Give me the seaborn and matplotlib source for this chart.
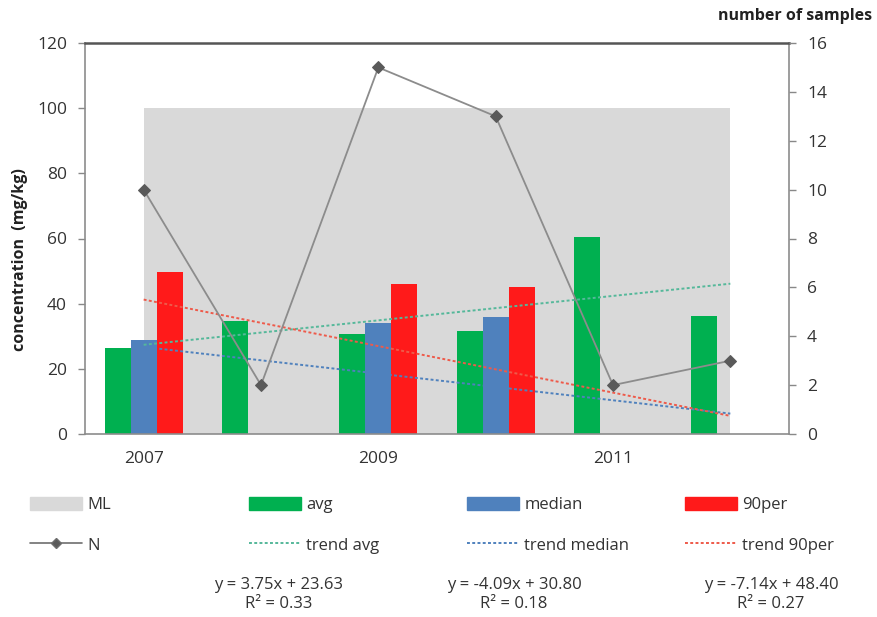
import numpy as np
import pandas as pd
import matplotlib
matplotlib.use("Agg")
import matplotlib.pyplot as plt
from matplotlib.patches import Patch
from matplotlib.lines import Line2D
import seaborn as sns

# ---- data ----
years = ["2007", "2008", "2009", "2010", "2011", "2012"]
ml = [100, 100, 100, 100, 100, 100]
avg = [26.4, 34.8, 30.7, 31.7, 60.6, 36.3]
median = [28.8, np.nan, 34.0, 35.9, np.nan, np.nan]
per90 = [49.8, np.nan, 46.0, 45.1, np.nan, np.nan]
n_samples = [10, 2, 15, 13, 2, 3]

# linear trend coefficients (slope, intercept, R^2), x = 1..6
trend_avg = (3.75, 23.63, 0.33)
trend_median = (-4.09, 30.80, 0.18)
trend_90per = (-7.14, 48.40, 0.27)

series_names = ["avg", "median", "90per"]
colors = {"avg": "#00B050", "median": "#4F81BD", "90per": "#FF1A1A"}
trend_colors = {"avg": "#55B89A", "median": "#4F81BD", "90per": "#EE5A4A"}
ml_color = "#D9D9D9"
text_color = "#333333"

sns.set_theme(style="white")
plt.rcParams["font.family"] = ["Open Sans", "DejaVu Sans"]

fig = plt.figure(figsize=(8.77, 6.17), dpi=100)
ax = fig.add_axes([85 / 877, 1 - 434 / 617, (789 - 85) / 877, (434 - 43) / 617])

pos = np.arange(len(years))

# ML area
ax.fill_between(pos, 0, ml, color=ml_color, linewidth=0, zorder=0)

# bars
long = pd.DataFrame({
    "year": years * 3,
    "series": sum([[s] * len(years) for s in series_names], []),
    "value": avg + median + per90,
}).dropna()
sns.barplot(data=long, x="year", y="value", hue="series", order=years,
            hue_order=series_names, palette=colors, width=0.665,
            saturation=1, errorbar=None, linewidth=0, legend=False, ax=ax,
            zorder=2)

# trend lines
xs = np.arange(1, len(years) + 1)
for name, (m, b, _) in zip(series_names, [trend_avg, trend_median, trend_90per]):
    ax.plot(pos, m * xs + b, linestyle=(0, (1.5, 1.2)), color=trend_colors[name],
            linewidth=1.4, zorder=3)

ax.set_xlim(-0.5, 5.5)
ax.set_ylim(0, 120)
ax.set_yticks(np.arange(0, 121, 20))
ax.set_xticks([0, 2, 4])
ax.set_xticklabels(["2007", "2009", "2011"])
ax.set_xticks(np.arange(-0.5, 5.6, 1), minor=True)
ax.tick_params(axis="x", which="major", length=0, pad=12, labelsize=12.5, colors=text_color)
ax.tick_params(axis="x", which="minor", length=5, width=1, color="#888888", direction="out")
ax.tick_params(axis="y", length=5, width=1, color="#888888", direction="out", pad=8,
               labelsize=12.5, labelcolor=text_color, left=True)
ax.set_xlabel("")
ax.set_ylabel("")
for side in ["left", "bottom", "right"]:
    ax.spines[side].set_color("#8C8C8C")
    ax.spines[side].set_linewidth(1.2)
ax.spines["top"].set_color("#555555")
ax.spines["top"].set_linewidth(1.8)

# number of samples on the secondary axis
ax2 = ax.twinx()
sns.lineplot(x=pos, y=n_samples, ax=ax2, color="#8C8C8C", linewidth=1.3,
             marker="D", markersize=6.5, markerfacecolor="#5A5A5A",
             markeredgecolor="#5A5A5A", zorder=4)
ax2.set_ylim(0, 16)
ax2.set_yticks(np.arange(0, 17, 2))
ax2.tick_params(axis="y", length=5, width=1, color="#888888", direction="out", pad=8,
                labelsize=12.5, labelcolor=text_color, right=True)
for s in ax2.spines.values():
    s.set_visible(False)
ax2.set_ylabel("")

fig.text(20 / 877, 1 - 260 / 617, "concentration  (mg/kg)", rotation=90,
         ha="center", va="center", fontsize=11.5, fontweight="bold", color="#222222")
fig.text(872 / 877, 1 - 16 / 617, "number of samples", ha="right", va="center",
         fontsize=11.5, fontweight="bold", color="#222222")

# legend: four columns of two entries
dot = (0, (1.5, 1.2))
cols = [
    ([Patch(color=ml_color), Line2D([], [], color="#6E6E6E", marker="D", markersize=5,
                                     markerfacecolor="#5A5A5A", linewidth=1.2)],
     ["ML", "N"], 30),
    ([Patch(color=colors["avg"]), Line2D([], [], color=trend_colors["avg"], linestyle=dot, linewidth=1.4)],
     ["avg", "trend avg"], 249),
    ([Patch(color=colors["median"]), Line2D([], [], color=trend_colors["median"], linestyle=dot, linewidth=1.4)],
     ["median", "trend median"], 467),
    ([Patch(color=colors["90per"]), Line2D([], [], color=trend_colors["90per"], linestyle=dot, linewidth=1.4)],
     ["90per", "trend 90per"], 685),
]
for handles, labels, x0 in cols:
    fig.legend(handles, labels, loc="upper left", bbox_to_anchor=(x0 / 877, 1 - 497 / 617),
               frameon=False, fontsize=12, handlelength=3.1, handleheight=0.8,
               handletextpad=0.35, labelspacing=1.45, borderaxespad=0, borderpad=0,
               labelcolor=text_color)

# trend equations
for (m, b, r2), xc in zip([trend_avg, trend_median, trend_90per], [279, 514, 771]):
    sign = "+" if b >= 0 else "-"
    fig.text(xc / 877, 1 - 585 / 617, f"y = {m:.2f}x {sign} {abs(b):.2f}",
             ha="center", va="center", fontsize=12, color=text_color)
    fig.text(xc / 877, 1 - 604 / 617, f"R² = {r2:.2f}",
             ha="center", va="center", fontsize=12, color=text_color)

fig.savefig("out.png", dpi=100)
